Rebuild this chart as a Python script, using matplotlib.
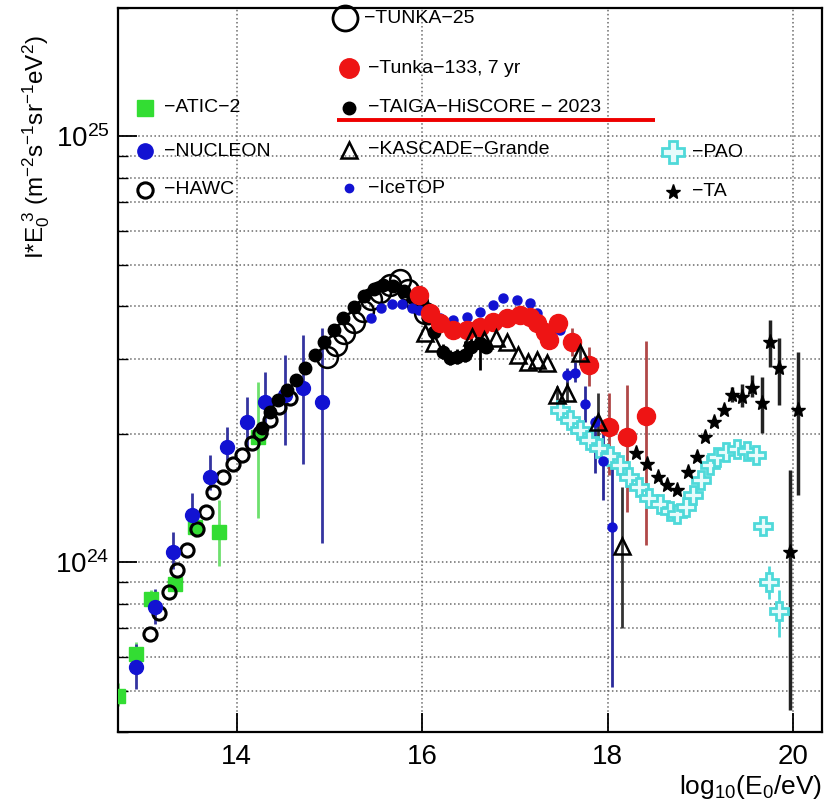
import matplotlib.pyplot as plt
from matplotlib.ticker import LogLocator, NullFormatter, FixedLocator

plt.rcParams['font.family'] = ['Liberation Sans', 'DejaVu Sans']
plt.rcParams['mathtext.fontset'] = 'custom'
plt.rcParams['mathtext.rm'] = 'Liberation Sans'
plt.rcParams['mathtext.it'] = 'Liberation Sans:italic'

UNIT = 1e24  # flux values below are in units of 1e24 m^-2 s^-1 sr^-1 eV^2

# --- data: log10(E0/eV) and I*E0^3 -----------------------------------------
atic_x = [12.72, 12.91, 13.08, 13.33, 13.55, 13.81, 14.23]
atic_y = [0.486, 0.609, 0.819, 0.888, 1.208, 1.18, 1.97]
atic_lo = [0.46, 0.57, 0.78, 0.85, 1.15, 0.98, 1.27]
atic_hi = [0.52, 0.65, 0.86, 0.93, 1.27, 1.40, 2.65]

nucleon_x = [12.91, 13.12, 13.31, 13.52, 13.71, 13.90, 14.11, 14.31, 14.52, 14.71, 14.92]
nucleon_y = [0.567, 0.785, 1.055, 1.295, 1.59, 1.87, 2.14, 2.38, 2.47, 2.57, 2.38]
nucleon_lo = [0.504, 0.716, 0.963, 1.20, 1.48, 1.74, 1.84, 2.10, 1.89, 1.70, 1.11]
nucleon_hi = [0.643, 0.865, 1.176, 1.458, 1.79, 2.08, 2.45, 2.80, 3.07, 3.42, 3.55]

hawc_x = [13.06, 13.16, 13.27, 13.36, 13.46, 13.57, 13.67, 13.74, 13.85, 13.96,
          14.06, 14.17, 14.25, 14.36, 14.46, 14.57]
hawc_y = [0.678, 0.760, 0.851, 0.958, 1.067, 1.195, 1.316, 1.459, 1.59, 1.70,
          1.79, 1.91, 2.01, 2.16, 2.31, 2.43]

tunka25_x = [14.97, 15.07, 15.16, 15.26, 15.36, 15.45, 15.55, 15.65, 15.76, 15.85, 15.94, 16.03]
tunka25_y = [3.03, 3.24, 3.46, 3.67, 3.89, 4.15, 4.31, 4.48, 4.60, 4.36, 4.08, 3.85]

taiga_x = [14.27, 14.36, 14.44, 14.54, 14.64, 14.74, 14.84, 14.94, 15.05, 15.15,
           15.26, 15.37, 15.48, 15.58, 15.69, 15.80, 15.90, 15.98, 16.06, 16.13,
           16.22, 16.30, 16.37, 16.46, 16.53, 16.62, 16.69]
taiga_y = [2.07, 2.25, 2.41, 2.54, 2.68, 2.86, 3.07, 3.29, 3.52, 3.75,
           3.98, 4.22, 4.38, 4.48, 4.46, 4.34, 4.18, 3.98, 3.75, 3.48,
           3.12, 3.02, 3.04, 3.07, 3.21, 3.28, 3.21]
taiga_bar_x = [16.22, 16.30, 16.37, 16.46, 16.53, 16.62, 16.69]
taiga_bar_lo = [3.00, 2.90, 2.92, 2.95, 3.05, 2.83, 3.10]
taiga_bar_hi = [3.25, 3.15, 3.17, 3.30, 3.45, 3.55, 3.35]

tunka133_x = [15.97, 16.08, 16.19, 16.33, 16.48, 16.62, 16.76, 16.91, 17.05, 17.16,
              17.24, 17.32, 17.37, 17.46, 17.61, 17.80, 18.01, 18.21, 18.41]
tunka133_y = [4.25, 3.85, 3.65, 3.51, 3.51, 3.57, 3.67, 3.75, 3.81, 3.77,
              3.65, 3.48, 3.33, 3.65, 3.29, 2.91, 2.08, 1.97, 2.20]
tunka133_bar_x = [17.61, 17.80, 18.01, 18.21, 18.41]
tunka133_bar_lo = [3.05, 2.60, 1.60, 1.31, 1.10]
tunka133_bar_hi = [3.55, 3.20, 2.50, 2.61, 3.30]

kascade_x = [16.03, 16.13, 16.54, 16.67, 16.80, 16.91, 17.03, 17.14, 17.24, 17.35,
             17.45, 17.56, 17.70, 17.89, 18.15]
kascade_y = [3.46, 3.28, 3.38, 3.33, 3.36, 3.29, 3.07, 2.96, 2.99, 2.94,
             2.47, 2.50, 3.10, 2.13, 1.09]
kascade_bar_x = [17.45, 17.56, 17.70, 17.89, 18.15]
kascade_bar_lo = [2.35, 2.38, 2.90, 1.80, 0.70]
kascade_bar_hi = [2.60, 2.65, 3.35, 2.50, 1.50]

icetop_x = [15.45, 15.56, 15.67, 15.78, 15.89, 15.97, 16.08, 16.19, 16.33, 16.48,
            16.62, 16.76, 16.87, 17.02, 17.16, 17.24, 17.39, 17.48, 17.56, 17.65,
            17.75, 17.86, 17.95, 18.05]
icetop_y = [3.75, 3.96, 4.04, 4.04, 3.96, 3.92, 3.81, 3.75, 3.71, 3.77,
            3.87, 4.02, 4.18, 4.13, 4.06, 3.85, 3.48, 3.51, 2.75, 2.79,
            2.35, 2.13, 1.73, 1.21]
icetop_bar_x = [17.56, 17.65, 17.75, 17.86, 17.95, 18.05]
icetop_bar_lo = [2.56, 2.65, 2.13, 1.62, 1.40, 0.51]
icetop_bar_hi = [2.86, 2.95, 2.60, 2.20, 2.08, 1.87]

pao_x = [17.48, 17.59, 17.70, 17.80, 17.91, 18.02, 18.13, 18.23, 18.34, 18.45,
         18.56, 18.67, 18.75, 18.84, 18.92, 19.01, 19.10, 19.18, 19.28, 19.39,
         19.50, 19.60, 19.67, 19.74, 19.85]
pao_y = [2.28, 2.16, 2.05, 1.94, 1.86, 1.78, 1.69, 1.59, 1.50, 1.42,
         1.37, 1.32, 1.30, 1.35, 1.44, 1.56, 1.69, 1.77, 1.82, 1.85,
         1.83, 1.79, 1.22, 0.90, 0.77]
pao_bar_x = [19.74, 19.85]
pao_bar_lo = [0.82, 0.67]
pao_bar_hi = [0.98, 0.86]

ta_x = [18.31, 18.42, 18.54, 18.64, 18.75, 18.86, 18.96, 19.05, 19.15, 19.25,
        19.34, 19.45, 19.56, 19.66, 19.75, 19.85, 19.96, 20.05]
ta_y = [1.81, 1.70, 1.59, 1.52, 1.48, 1.63, 1.77, 1.97, 2.13, 2.28,
        2.47, 2.45, 2.57, 2.37, 3.29, 2.86, 1.06, 2.28]
ta_bar_x = [19.34, 19.45, 19.56, 19.66, 19.75, 19.85, 19.96, 20.05]
ta_bar_lo = [2.38, 2.32, 2.45, 2.01, 2.88, 2.34, 0.45, 1.44]
ta_bar_hi = [2.58, 2.62, 2.75, 2.72, 3.71, 3.37, 1.65, 3.12]


def scale(vals):
    return [v * UNIT for v in vals]


fig = plt.figure(figsize=(8.32, 8.08), dpi=100)
ax = fig.add_axes([0.1418, 0.0941, 0.8462, 0.8960])

GREEN = '#33dd33'
BLUE = '#1212d2'
RED = '#ee1414'
CYAN = '#4fd9d9'

# error bars first, markers on top
ax.vlines(atic_x, scale(atic_lo), scale(atic_hi), color='#6ee06e', lw=2, zorder=2)
ax.vlines(nucleon_x, scale(nucleon_lo), scale(nucleon_hi), color='#3434a0', lw=2, zorder=2)
ax.vlines(pao_bar_x, scale(pao_bar_lo), scale(pao_bar_hi), color=CYAN, lw=2, zorder=2)
ax.vlines(ta_bar_x, scale(ta_bar_lo), scale(ta_bar_hi), color='#222222', lw=2.5, zorder=2)
ax.vlines(tunka133_bar_x, scale(tunka133_bar_lo), scale(tunka133_bar_hi), color='#b04848', lw=2, zorder=2)
ax.vlines(icetop_bar_x, scale(icetop_bar_lo), scale(icetop_bar_hi), color='#2a2a9a', lw=2, zorder=2)
ax.vlines(kascade_bar_x, scale(kascade_bar_lo), scale(kascade_bar_hi), color='#333333', lw=2, zorder=2)
ax.vlines(taiga_bar_x, scale(taiga_bar_lo), scale(taiga_bar_hi), color='black', lw=2, zorder=2)

ax.plot(pao_x, scale(pao_y), 'P', ms=13, mfc='#e8fbfb', mec=CYAN, mew=2, ls='none', zorder=3)
ax.plot(ta_x, scale(ta_y), '*', ms=11, color='black', ls='none', zorder=3)
ax.plot(atic_x, scale(atic_y), 's', ms=9.5, color=GREEN, ls='none', zorder=3)
ax.plot(hawc_x, scale(hawc_y), 'o', ms=9.5, mfc='none', mec='black', mew=2.2, ls='none', zorder=4)
ax.plot(nucleon_x, scale(nucleon_y), 'o', ms=10, color=BLUE, ls='none', zorder=4)
ax.plot(tunka25_x, scale(tunka25_y), 'o', ms=15, mfc='none', mec='black', mew=1.8, ls='none', zorder=4)
ax.plot(taiga_x, scale(taiga_y), 'o', ms=9, color='black', ls='none', zorder=5)
ax.plot(icetop_x, scale(icetop_y), 'o', ms=6.5, color=BLUE, ls='none', zorder=5)
ax.plot(tunka133_x, scale(tunka133_y), 'o', ms=13, color=RED, ls='none', zorder=5)
ax.plot(kascade_x, scale(kascade_y), '^', ms=11, mfc='none', mec='black', mew=1.8, ls='none', zorder=6)

# axes
ax.set_yscale('log')
ax.set_xlim(12.72, 20.31)
ax.set_ylim(4.0e23, 2.0e25)
ax.xaxis.set_major_locator(FixedLocator([14, 16, 18, 20]))
ax.yaxis.set_major_locator(LogLocator(base=10))
ax.yaxis.set_minor_locator(LogLocator(base=10, subs=range(2, 10)))
ax.yaxis.set_minor_formatter(NullFormatter())
ax.tick_params(which='major', direction='in', length=14, width=1.3, labelsize=20)
ax.tick_params(axis='y', which='major', pad=6)
ax.tick_params(axis='x', which='major', pad=9)
ax.tick_params(which='minor', direction='in', length=7, width=1)
ax.grid(True, axis='x', which='major', ls=':', color='#6a6a6a', lw=1.1)
ax.grid(True, axis='y', which='both', ls=':', color='#6a6a6a', lw=1.1)
for sp in ax.spines.values():
    sp.set_linewidth(1.6)

ax.set_xlabel(r'$\mathrm{log_{10}(E_0/eV)}$', fontsize=19, loc='right', labelpad=2)
fig.text(0.044, 0.818, r'$\mathrm{I{*}E_0^{\ 3}\ (m^{-2}s^{-1}sr^{-1}eV^{2})}$',
         rotation=90, ha='center', va='center', fontsize=17.5)

# in-plot legend
tr = ax.transAxes
legend_items = [
    (0.322, 0.986, 'o', dict(ms=18, mfc='none', mec='black', mew=2), '−TUNKA−25'),
    (0.328, 0.917, 'o', dict(ms=14, color=RED), '−Tunka−133, 7 yr'),
    (0.328, 0.862, 'o', dict(ms=9, color='black'), '−TAIGA−HiSCORE − 2023'),
    (0.328, 0.804, '^', dict(ms=11, mfc='none', mec='black', mew=1.8), '−KASCADE−Grande'),
    (0.328, 0.751, 'o', dict(ms=6, color=BLUE), '−IceTOP'),
    (0.038, 0.862, 's', dict(ms=11, color=GREEN), '−ATIC−2'),
    (0.038, 0.802, 'o', dict(ms=11, color=BLUE), '−NUCLEON'),
    (0.038, 0.749, 'o', dict(ms=11, mfc='none', mec='black', mew=2.2), '−HAWC'),
    (0.788, 0.801, 'P', dict(ms=16, mfc='#e8fbfb', mec=CYAN, mew=2), '−PAO'),
    (0.788, 0.746, '*', dict(ms=11, color='black'), '−TA'),
]
for mx, my, mk, style, label in legend_items:
    ax.plot([mx], [my], mk, transform=tr, ls='none', clip_on=False, zorder=7, **style)
    ax.text(mx + 0.027, my, label, transform=tr, fontsize=14, va='center', ha='left', zorder=7)

# red underline of the TAIGA-HiSCORE entry
ax.plot([0.311, 0.763], [0.845, 0.845], transform=tr, color='#ee0000', lw=2.8,
        solid_capstyle='butt', zorder=7)

fig.savefig('out.png', dpi=100)
